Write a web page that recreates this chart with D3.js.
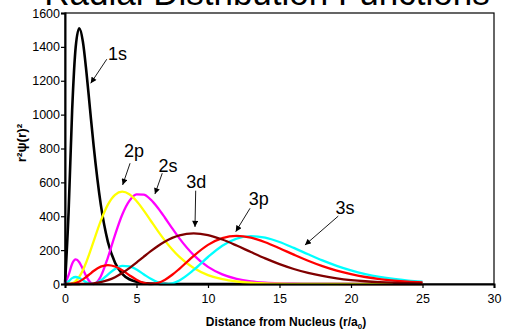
<!DOCTYPE html>
<html>
<head>
<meta charset="utf-8">
<script src="https://cdn.jsdelivr.net/npm/d3@7"></script>
<style>
  body { margin: 0; background: #fff; }
  text { font-family: "Liberation Sans", Arial, sans-serif; }
</style>
</head>
<body>
<div id="chart"></div>
<script>
// distance from nucleus (r/a0)
const radius = [0, 0.25, 0.5, 0.75, 1, 1.25, 1.5, 1.75, 2, 2.5, 3, 3.5, 4, 4.5, 5, 5.5, 6, 6.5, 7, 7.5, 8,
  9, 10, 11, 12, 13, 14, 15, 16, 17, 18, 19, 20, 21, 22, 23, 24, 25];

const orbitals = ['1s', '2s', '2p', '3s', '3p', '3d'];
const colors = ['#000000', '#ff00ff', '#ffff00', '#00ffff', '#ff0000', '#800000'];

const s1 = [0, 423, 1026, 1401, 1510, 1431, 1250, 1032, 818, 470, 249, 125, 60, 28, 12.7, 5.6, 2.5, 1.1, 0.5, 0.2, 0.1,
  0, 0, 0, 0, 0, 0, 0, 0, 0, 0, 0, 0, 0, 0, 0, 0, 0];
const s2 = [0, 52, 119, 144.8, 128.3, 87.8, 43.8, 11.6, 0, 44.7, 156.3, 290.3, 408.8, 490.3, 528.7, 528.1, 497.9, 448.6, 389.6, 328.2, 269.5,
  170.8, 101.3, 57.1, 30.9, 16.1, 8.2, 4.1, 2.0, 0.9, 0.4, 0.2, 0.1, 0, 0, 0, 0, 0];
const p2 = [0, 0.4, 4.4, 17.4, 42.8, 81.3, 131.3, 189.5, 251.7, 372.8, 468.8, 526.8, 545.1, 529.6, 489.5, 434.7, 373.5, 312.0, 254.5, 203.4, 159.7,
  94.1, 52.8, 28.4, 14.8, 7.5, 3.7, 1.8, 0.9, 0.4, 0.2, 0.1, 0, 0, 0, 0, 0, 0];
const s3 = [0, 15.4, 34.8, 41.4, 35.2, 22.4, 9.5, 1.4, 0.6, 20.3, 55.9, 89.1, 106.5, 104.2, 85.5, 58.0, 30.3, 9.5, 0.3, 4.4, 21.2,
  83.0, 159.4, 226.0, 268.4, 283.2, 274.1, 248.2, 213.1, 175.3, 139.1, 107.0, 80.1, 58.6, 42.0, 29.6, 20.5, 14.0];
const p3 = [0, 0.1, 1.5, 6.0, 14.6, 27.2, 42.8, 59.8, 76.5, 102.5, 111.9, 103.1, 80.7, 52.1, 25.3, 6.6, 0, 6.6, 25.6, 54.4, 89.7,
  166.0, 230.9, 271.2, 284.0, 273.3, 246.5, 211.1, 173.2, 137.1, 105.3, 78.8, 57.6, 41.3, 29.0, 20.1, 13.7, 9.2];
const d3v = [0, 0, 0, 0, 0.1, 0.4, 1.0, 2.0, 3.8, 10.5, 22.4, 40.4, 64.5, 93.8, 126.4, 160.5, 193.8, 224.5, 250.9, 272.0, 287.0,
  298.8, 288.6, 262.5, 227.2, 188.6, 151.0, 117.3, 88.7, 65.5, 47.4, 33.7, 23.5, 16.2, 11.0, 7.4, 4.9, 3.2];

const xTicks = [0, 5, 10, 15, 20, 25, 30];
const yTicks = [0, 200, 400, 600, 800, 1000, 1200, 1400, 1600];

// callouts: label, text anchor point, arrow tail, arrow head (in data units)
const notes = [
  { label: '1s', tx: 3.67, ty: 1322, ax: 2.92, ay: 1327, hx: 1.80, hy: 1185 },
  { label: '2p', tx: 4.83, ty: 750, ax: 4.55, ay: 713, hx: 4.03, hy: 585 },
  { label: '2s', tx: 7.20, ty: 663, ax: 6.80, ay: 654, hx: 6.29, hy: 531 },
  { label: '3d', tx: 9.18, ty: 565, ax: 9.14, ay: 551, hx: 9.09, hy: 337 },
  { label: '3p', tx: 13.55, ty: 466, ax: 12.94, ay: 447, hx: 11.94, hy: 309 },
  { label: '3s', tx: 19.58, ty: 413, ax: 19.11, ay: 401, hx: 16.78, hy: 230 }
];

const seriesValues = [s1, s2, p2, s3, p3, d3v];

const W = 506, H = 333;
const margin = { top: 13, right: 12, bottom: 49, left: 65 };

const svg = d3.select('#chart').append('svg')
  .attr('width', W)
  .attr('height', H);

const x = d3.scaleLinear().domain([0, 30]).range([margin.left, W - margin.right]);
const y = d3.scaleLinear().domain([0, 1600]).range([H - margin.bottom, margin.top]);

svg.append('defs').append('marker')
  .attr('id', 'head')
  .attr('markerUnits', 'userSpaceOnUse')
  .attr('viewBox', '0 0 10 10')
  .attr('refX', 10).attr('refY', 5)
  .attr('markerWidth', 7).attr('markerHeight', 6)
  .attr('orient', 'auto')
  .append('path')
  .attr('d', 'M0,0L10,5L0,10Z')
  .attr('fill', '#000');

// title (mostly cut off at the top, as in the original)
svg.append('text')
  .attr('x', 267).attr('y', 5)
  .attr('text-anchor', 'middle')
  .attr('font-size', 35)
  .text('Radial Distribution Functions');

// plot frame
svg.append('rect')
  .attr('x', x(0)).attr('y', y(1600))
  .attr('width', x(30) - x(0)).attr('height', y(0) - y(1600))
  .attr('fill', 'none')
  .attr('stroke', '#000')
  .attr('stroke-width', 1.2);

// curves
const line = d3.line()
  .x((d, i) => x(radius[i]))
  .y(d => y(d))
  .curve(d3.curveMonotoneX);

svg.append('g').selectAll('path')
  .data(seriesValues)
  .join('path')
  .attr('fill', 'none')
  .attr('stroke', (d, i) => colors[i])
  .attr('stroke-width', (d, i) => i === 0 ? 2.6 : 2.3)
  .attr('stroke-linejoin', 'round')
  .attr('d', line);

// axes
const xAxis = svg.append('g')
  .attr('transform', `translate(0,${y(0)})`)
  .call(d3.axisBottom(x).tickValues(xTicks).tickSize(4).tickPadding(6).tickFormat(d3.format('d')));
const yAxis = svg.append('g')
  .attr('transform', `translate(${x(0)},0)`)
  .call(d3.axisLeft(y).tickValues(yTicks).tickSize(4).tickPadding(1).tickFormat(d3.format('d')));

[xAxis, yAxis].forEach(g => {
  g.select('.domain').attr('stroke-width', 2);
  g.selectAll('.tick line').attr('stroke-width', 1.2);
  g.selectAll('.tick text')
    .attr('font-family', '"Liberation Sans", Arial, sans-serif')
    .attr('font-size', 12.5)
    .attr('fill', '#000');
});

// callouts
const note = svg.append('g');
note.selectAll('line')
  .data(notes)
  .join('line')
  .attr('x1', d => x(d.ax)).attr('y1', d => y(d.ay))
  .attr('x2', d => x(d.hx)).attr('y2', d => y(d.hy))
  .attr('stroke', '#000')
  .attr('stroke-width', 0.9)
  .attr('marker-end', 'url(#head)');
note.selectAll('text')
  .data(notes)
  .join('text')
  .attr('x', d => x(d.tx)).attr('y', d => y(d.ty))
  .attr('text-anchor', 'middle')
  .attr('font-size', 18)
  .text(d => d.label);

// axis titles
const xt = svg.append('text')
  .attr('x', 286).attr('y', 326)
  .attr('text-anchor', 'middle')
  .attr('font-size', 12)
  .attr('font-weight', 'bold')
  .text('Distance from Nucleus (r/a');
xt.append('tspan').attr('font-size', 8).attr('dy', 3).text('0');
xt.append('tspan').attr('dy', -3).text(')');

svg.append('text')
  .attr('transform', 'translate(26,143) rotate(-90)')
  .attr('text-anchor', 'middle')
  .attr('font-size', 13.5)
  .attr('font-weight', 'bold')
  .text('r\u00b2\u03c8(r)\u00b2');
</script>
</body>
</html>
